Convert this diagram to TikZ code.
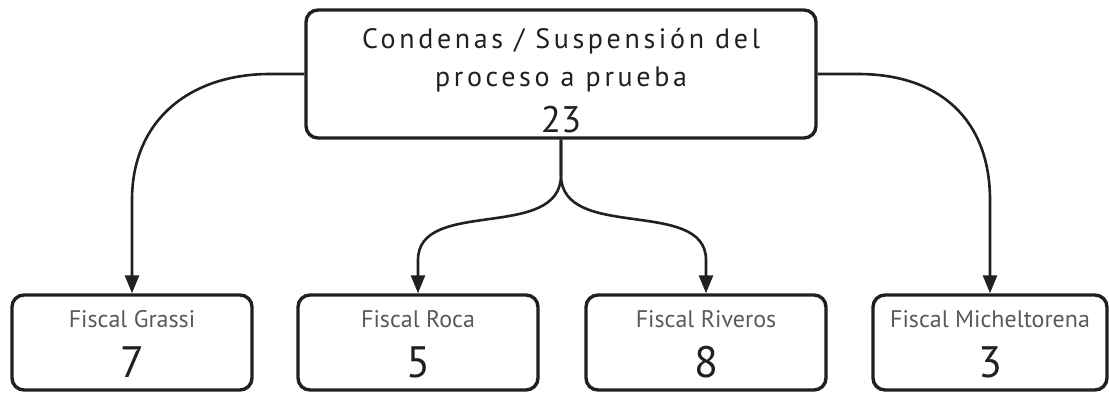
\documentclass[tikz,border=0pt]{standalone}
\usepackage{fontspec}
\setmainfont{PT Sans}
\usetikzlibrary{arrows.meta}
\definecolor{ink}{HTML}{231F20}
\definecolor{graytxt}{HTML}{58595B}
\tikzset{
  box/.style={draw=ink, line width=3.4pt, rounded corners=12pt, inner sep=0pt},
  conn/.style={draw=ink, line width=2.6pt, -{Triangle[length=18pt,width=14pt]}},
  toptxt/.style={anchor=base, text=ink, font=\fontsize{28}{34}\selectfont\addfontfeatures{LetterSpace=13}},
  topnum/.style={anchor=base, text=ink, font=\fontsize{37}{40}\selectfont},
  fname/.style={anchor=base, text=graytxt, font=\fontsize{24}{28}\selectfont},
  fnum/.style={anchor=base, text=ink, font=\fontsize{44}{48}\selectfont}
}
\begin{document}
\begin{tikzpicture}[x=1pt,y=-1pt]
\useasboundingbox (0,0) rectangle (1109,392);
% boxes
\node[box, minimum width=510pt, minimum height=128pt] (top) at (561,74) {};
\node[box, minimum width=240pt, minimum height=95pt] (g) at (132,342.5) {};
\node[box, minimum width=240pt, minimum height=95pt] (r) at (418,342.5) {};
\node[box, minimum width=240pt, minimum height=95pt] (v) at (706,342.5) {};
\node[box, minimum width=234pt, minimum height=95pt] (m) at (990,342.5) {};
% texts
\node[toptxt] (t1) at (561,48) {Condenas / Suspensión del};
\node[toptxt] (t2) at (561,86) {proceso a prueba};
\node[topnum] (t3) at (561,132) {23};
\node[fname] (gn) at (132,327) {Fiscal Grassi};
\node[fnum] (gv) at (132,377) {7};
\node[fname] (rn) at (418,327) {Fiscal Roca};
\node[fnum] (rv) at (418,377) {5};
\node[fname] (vn) at (706,327) {Fiscal Riveros};
\node[fnum] (vv) at (706,377) {8};
\node[fname] (mn) at (990,327) {Fiscal Micheltorena};
\node[fnum] (mv) at (990,377) {3};
% connectors
\draw[conn] (top.west) -- (270,74) .. controls (190,74) and (132,120) .. (132,200) -- (g.north);
\draw[conn] (top.east) -- (858,74) .. controls (940,74) and (990,120) .. (990,200) -- (m.north);
\draw[conn] (top.south) -- (561,175) .. controls (561,242) and (418,197) .. (418,260) -- (r.north);
\draw[conn] (top.south) -- (561,175) .. controls (561,242) and (706,197) .. (706,260) -- (v.north);
\end{tikzpicture}
\end{document}
